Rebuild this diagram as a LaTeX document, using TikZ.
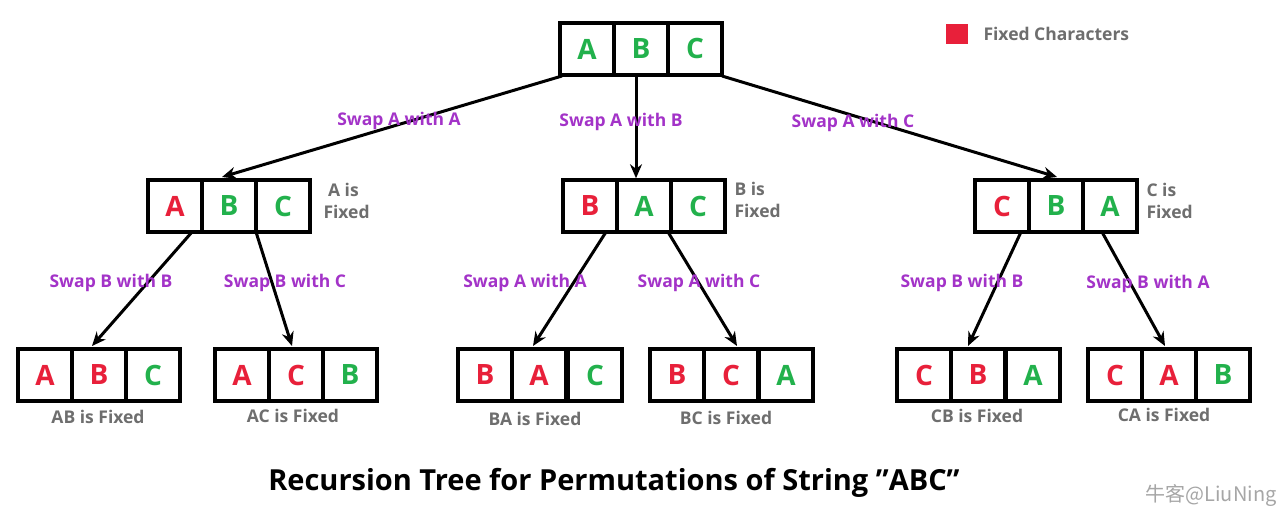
\documentclass[tikz,border=0pt]{standalone}
\usepackage{fontspec}
\setmainfont{Open Sans}
\newfontfamily\cjk{Noto Sans CJK SC}
\usetikzlibrary{arrows.meta}
\definecolor{rd}{HTML}{E8203A}
\definecolor{gr}{HTML}{22B14C}
\definecolor{pu}{HTML}{A333C8}
\definecolor{gy}{HTML}{6E6E6E}
\tikzset{
 cell/.style={draw=black,line width=3.5pt,minimum width=54pt,minimum height=52pt,inner sep=0pt,font=\fontsize{28}{30}\selectfont\bfseries},
 lab/.style={text=pu,font=\fontsize{17.5}{20}\selectfont\bfseries},
 fix/.style={text=gy,font=\fontsize{17.5}{22}\selectfont\bfseries,align=left},
 edge/.style={line width=3pt,-{Stealth[length=14pt,width=12pt]}}
}
\begin{document}
\begin{tikzpicture}[x=1pt,y=-1pt]
\useasboundingbox (0,0) rectangle (1288,524);
\fill[white] (0,0) rectangle (1288,524);
% root
\node[cell,text=gr] (r1) at (587,49) {A};
\node[cell,text=gr] (r2) at (641,49) {B};
\node[cell,text=gr] (r3) at (695,49) {C};
% level 1
\node[cell,text=rd] (a1) at (175,206) {A};
\node[cell,text=gr] (a2) at (229,206) {B};
\node[cell,text=gr] (a3) at (283,206) {C};
\node[cell,text=rd] (b1) at (590,206) {B};
\node[cell,text=gr] (b2) at (644,206) {A};
\node[cell,text=gr] (b3) at (698,206) {C};
\node[cell,text=rd] (c1) at (1002,206) {C};
\node[cell,text=gr] (c2) at (1056,206) {B};
\node[cell,text=gr] (c3) at (1110,206) {A};
% level 2
\node[cell,text=rd] (d1) at (45,375) {A};
\node[cell,text=rd] (d2) at (99,375) {B};
\node[cell,text=gr] (d3) at (153,375) {C};
\node[cell,text=rd] (e1) at (242,375) {A};
\node[cell,text=rd] (e2) at (296,375) {C};
\node[cell,text=gr] (e3) at (350,375) {B};
\node[cell,text=rd] (f1) at (485,375) {B};
\node[cell,text=rd] (f2) at (539,375) {A};
\node[cell,text=gr] (f3) at (595,375) {C};
\node[cell,text=rd] (g1) at (677,375) {B};
\node[cell,text=rd] (g2) at (731,375) {C};
\node[cell,text=gr] (g3) at (786,375) {A};
\node[cell,text=rd] (h1) at (924,375) {C};
\node[cell,text=rd] (h2) at (978,375) {B};
\node[cell,text=gr] (h3) at (1033,375) {A};
\node[cell,text=rd] (i1) at (1115,375) {C};
\node[cell,text=rd] (i2) at (1169,375) {A};
\node[cell,text=gr] (i3) at (1223,375) {B};
% edges
\coordinate (ra) at (562,76);
\coordinate (rb) at (636,76);
\coordinate (rc) at (722,76);
\draw[edge] (ra) -- (222,177);
\draw[edge] (rb) -- (b2.north -| rb);
\draw[edge] (rc) -- (1057,177);
\draw[edge] (192,232) -- (92,346);
\draw[edge] (256,232) -- (292,346);
\draw[edge] (606,232) -- (533,346);
\draw[edge] (668,232) -- (737,346);
\draw[edge] (1021,232) -- (968,346);
\draw[edge] (1102,232) -- (1165,346);
% labels
\node[lab] at (399,121) {Swap A with A};
\node[lab] at (621,122) {Swap A with B};
\node[lab] at (853,123) {Swap A with C};
\node[lab] at (111,283) {Swap B with B};
\node[lab] at (285,283) {Swap B with C};
\node[lab] at (525,283) {Swap A with A};
\node[lab] at (699,283) {Swap A with C};
\node[lab] at (962,283) {Swap B with B};
\node[lab] at (1148,284) {Swap B with A};
\node[fix,anchor=north west] at (320,180) {\ A is\\Fixed};
\node[fix,anchor=north west] at (731,179) {B is\\Fixed};
\node[fix,anchor=north west] at (1143,180) {C is\\Fixed};
\node[fix] at (98,417) {AB is Fixed};
\node[fix] at (293,416) {AC is Fixed};
\node[fix] at (535,419) {BA is Fixed};
\node[fix] at (726,418) {BC is Fixed};
\node[fix] at (977,416) {CB is Fixed};
\node[fix] at (1164,415) {CA is Fixed};
% legend
\fill[rd] (946,24) rectangle (968,44);
\node[fix,anchor=west] at (980,34) {Fixed Characters};
% title
\node[font=\fontsize{29}{32}\selectfont\bfseries] at (614,483) {Recursion Tree for Permutations of String \symbol{34}ABC\symbol{34}};
\node[text=gray!70,font=\cjk\fontsize{20}{22}\selectfont,anchor=east] at (1280,496) {牛客@LiuNing};
\end{tikzpicture}
\end{document}
